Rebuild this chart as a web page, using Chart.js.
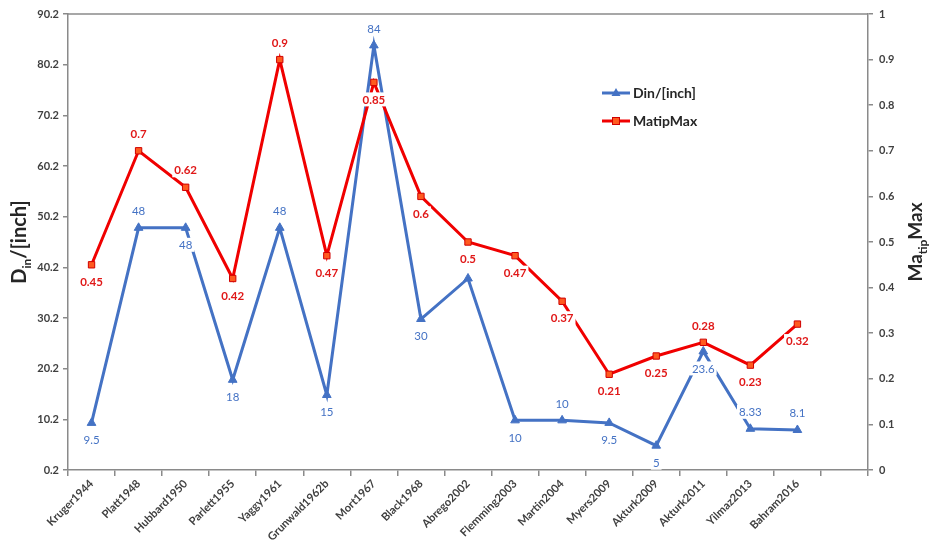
<!DOCTYPE html>
<html>
<head>
<meta charset="utf-8">
<script src="https://cdn.jsdelivr.net/npm/chart.js@4/dist/chart.umd.min.js"></script>
<style>
  html, body { margin: 0; padding: 0; background: #fff; }
  canvas { display: block; }
</style>
</head>
<body>
<canvas id="chart" width="933" height="545"></canvas>
<script>
// Studies (the last slot is an empty category on the axis)
const categories = ['Kruger1944', 'Platt1948', 'Hubbard1950', 'Parlett1955', 'Yaggy1961',
  'Grunwald1962b', 'Mort1967', 'Black1968', 'Abrego2002', 'Flemming2003', 'Martin2004',
  'Myers2009', 'Akturk2009', 'Akturk2011', 'Yilmaz2013', 'Bahram2016', ''];

// Rotor diameter in inches (left axis)
const dinValues = [9.5, 48, 48, 18, 48, 15, 84, 30, 38, 10, 10, 9.5, 5, 23.6, 8.33, 8.1, null];
// Maximum tip Mach number (right axis)
const machValues = [0.45, 0.7, 0.62, 0.42, 0.9, 0.47, 0.85, 0.6, 0.5, 0.47, 0.37, 0.21, 0.25, 0.28, 0.23, 0.32, null];

// Which points carry a value label
const dinShowLabel = [true, true, true, true, true, true, true, true, false, true, true, true, true, true, true, true, false];

// Axis tick values
const leftTicks = [0.2, 10.2, 20.2, 30.2, 40.2, 50.2, 60.2, 70.2, 80.2, 90.2];
const rightTicks = [0, 0.1, 0.2, 0.3, 0.4, 0.5, 0.6, 0.7, 0.8, 0.9, 1];

// Label placement relative to each point
const dinLabelSide = ['below', 'above', 'below', 'below', 'above', 'below', 'above', 'below', 'below',
  'below', 'above', 'below', 'below', 'below', 'above', 'above', 'below'];
const machLabelSide = ['below', 'above', 'above', 'below', 'above', 'below', 'below', 'below', 'below',
  'below', 'below', 'below', 'below', 'above', 'below', 'below', 'below'];

const BLUE = '#4472C4';
const RED = '#F00000';
const AXIS = '#8a8a8a';
const TEXT = '#404040';
const FONT = 'Lato, "Open Sans", "Liberation Sans", sans-serif';

const valueLabels = {
  id: 'valueLabels',
  afterDatasetsDraw(chart) {
    const ctx = chart.ctx;
    const specs = [
      { idx: 0, values: dinValues, show: dinShowLabel, side: dinLabelSide, color: BLUE, weight: 'normal' },
      { idx: 1, values: machValues, show: null, side: machLabelSide, color: '#E01818', weight: 'bold' }
    ];
    ctx.save();
    ctx.textAlign = 'center';
    ctx.textBaseline = 'middle';
    specs.forEach(s => {
      const meta = chart.getDatasetMeta(s.idx);
      ctx.font = s.weight + ' 11.5px ' + FONT;
      meta.data.forEach((pt, i) => {
        const v = s.values[i];
        if (v === null || v === undefined) return;
        if (s.show && !s.show[i]) return;
        const txt = String(v);
        const y = pt.y + (s.side[i] === 'above' ? -17 : 17);
        const w = ctx.measureText(txt).width + 4;
        ctx.fillStyle = '#ffffff';
        ctx.fillRect(pt.x - w / 2, y - 7, w, 14);
        ctx.fillStyle = s.color;
        ctx.fillText(txt, pt.x, y + 0.5);
      });
    });
    ctx.restore();
  }
};

function drawSubTitle(ctx, x, y, parts, size) {
  // parts: [text, isSubscript]; text runs bottom-to-top
  ctx.save();
  ctx.translate(x, y);
  ctx.rotate(-Math.PI / 2);
  ctx.textBaseline = 'alphabetic';
  ctx.fillStyle = '#262626';
  const sub = Math.round(size * 0.62);
  let total = 0;
  parts.forEach(p => {
    ctx.font = 'bold ' + (p[1] ? sub : size) + 'px ' + FONT;
    total += ctx.measureText(p[0]).width;
  });
  let cx = -total / 2;
  parts.forEach(p => {
    ctx.font = 'bold ' + (p[1] ? sub : size) + 'px ' + FONT;
    ctx.fillText(p[0], cx, p[1] ? 11 : 6);
    cx += ctx.measureText(p[0]).width;
  });
  ctx.restore();
}

const decorations = {
  id: 'decorations',
  afterDraw(chart) {
    const ctx = chart.ctx;
    const a = chart.chartArea;
    ctx.save();
    // top frame line
    ctx.strokeStyle = AXIS;
    ctx.lineWidth = 1.5;
    ctx.beginPath();
    ctx.moveTo(a.left, a.top);
    ctx.lineTo(a.right, a.top);
    ctx.stroke();

    // axis titles
    drawSubTitle(ctx, 20, 242, [['D', false], ['in', true], ['/[inch]', false]], 20);
    drawSubTitle(ctx, 916, 242, [['Ma', false], ['tip', true], ['Max', false]], 19);

    // legend
    const items = [
      { label: 'Din/[inch]', color: BLUE, y: 93, marker: 'triangle' },
      { label: 'MatipMax', color: RED, y: 121, marker: 'rect' }
    ];
    items.forEach(it => {
      ctx.strokeStyle = it.color;
      ctx.lineWidth = 3;
      ctx.beginPath();
      ctx.moveTo(602, it.y);
      ctx.lineTo(630, it.y);
      ctx.stroke();
      if (it.marker === 'triangle') {
        ctx.fillStyle = BLUE;
        ctx.beginPath();
        ctx.moveTo(616, it.y - 5);
        ctx.lineTo(620.5, it.y + 3);
        ctx.lineTo(611.5, it.y + 3);
        ctx.closePath();
        ctx.fill();
      } else {
        ctx.fillStyle = '#FF5A1F';
        ctx.strokeStyle = '#D00000';
        ctx.lineWidth = 1;
        ctx.fillRect(612.5, it.y - 3.5, 7, 7);
        ctx.strokeRect(612.5, it.y - 3.5, 7, 7);
      }
      ctx.fillStyle = '#262626';
      ctx.font = 'bold 14px ' + FONT;
      ctx.textBaseline = 'middle';
      ctx.textAlign = 'left';
      ctx.fillText(it.label, 633, it.y);
    });
    ctx.restore();
  }
};

const tickFont = { family: FONT, size: 11, weight: 'bold' };

new Chart(document.getElementById('chart'), {
  type: 'line',
  data: {
    labels: categories,
    datasets: [
      {
        label: 'Din/[inch]',
        data: dinValues,
        yAxisID: 'y',
        borderColor: BLUE,
        backgroundColor: BLUE,
        borderWidth: 3,
        pointStyle: 'triangle',
        pointRadius: 5,
        pointBorderWidth: 1,
        pointBackgroundColor: BLUE,
        pointBorderColor: BLUE,
        tension: 0,
        order: 2
      },
      {
        label: 'MatipMax',
        data: machValues,
        yAxisID: 'y1',
        borderColor: RED,
        backgroundColor: RED,
        borderWidth: 3,
        pointStyle: 'rect',
        pointRadius: 4.5,
        pointBorderWidth: 1,
        pointBackgroundColor: '#FF5A1F',
        pointBorderColor: '#D00000',
        tension: 0,
        order: 1
      }
    ]
  },
  options: {
    responsive: false,
    animation: false,
    layout: { padding: { top: 14, left: 0, right: 0, bottom: 0 } },
    plugins: {
      legend: { display: false },
      tooltip: { enabled: false }
    },
    scales: {
      x: {
        type: 'category',
        offset: true,
        grid: { offset: true, drawOnChartArea: false, drawTicks: true, tickLength: 6, color: AXIS, lineWidth: 1.5 },
        border: { color: AXIS, width: 1.5 },
        ticks: { autoSkip: false, minRotation: 45, maxRotation: 45, color: TEXT, font: { family: FONT, size: 11.2, weight: 'bold' }, padding: 1 },
        afterFit(s) { s.height = 75; }
      },
      y: {
        position: 'left',
        min: 0.2,
        max: 90.2,
        afterBuildTicks(s) { s.ticks = leftTicks.map(v => ({ value: v })); },
        grid: { drawOnChartArea: false, drawTicks: true, tickLength: 5, color: AXIS, lineWidth: 1.5 },
        border: { color: AXIS, width: 1.5 },
        ticks: { color: TEXT, font: tickFont, padding: 4, callback: v => Number(v).toFixed(1) },
        afterFit(s) { s.width = 68; }
      },
      y1: {
        position: 'right',
        min: 0,
        max: 1,
        afterBuildTicks(s) { s.ticks = rightTicks.map(v => ({ value: v })); },
        grid: { drawOnChartArea: false, drawTicks: true, tickLength: 5, color: AXIS, lineWidth: 1.5 },
        border: { color: AXIS, width: 1.5 },
        ticks: { color: TEXT, font: tickFont, padding: 6, callback: v => String(Math.round(v * 10) / 10) },
        afterFit(s) { s.width = 65; }
      }
    }
  },
  plugins: [valueLabels, decorations]
});
</script>
</body>
</html>
